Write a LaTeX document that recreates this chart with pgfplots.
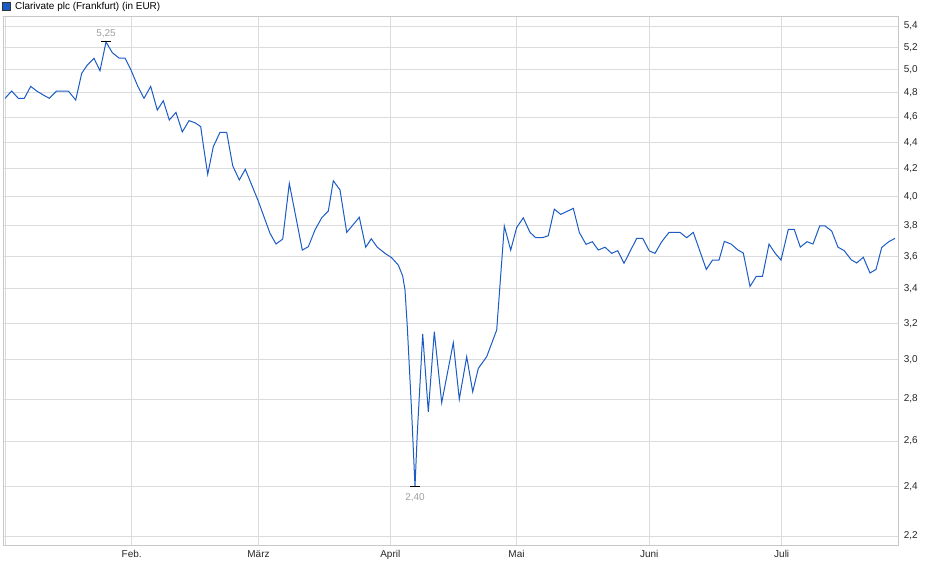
\documentclass[border=0pt]{standalone}
\usepackage{pgfplots}
\pgfplotsset{compat=1.18}
\usepackage{fontspec}
\setmainfont{Liberation Sans}
\definecolor{kurs}{HTML}{1A5BC4}
\definecolor{gitter}{HTML}{DCDCDC}
\definecolor{rahmen}{HTML}{C8C8C8}
\definecolor{marke}{HTML}{A0A0A0}
\begin{document}
\begin{tikzpicture}
\path[use as bounding box] (-3bp,-34bp) rectangle (937bp,545bp);
\begin{axis}[
    at={(0,0)}, anchor=south west,
    scale only axis, width=895.3bp, height=529bp,
    xmin=3, xmax=898.3,
    ymode=log, ymin=2.1654, ymax=5.496,
    axis line style={rahmen, line width=0.8bp},
    grid=major, grid style={gitter, line width=0.8bp},
    major tick length=0,
    xtick={5.3,131.7,258.5,390.3,516.5,649.3,781.7},
    xticklabels={,Feb.,März,April,Mai,Juni,Juli},
    ytick={2.2,2.4,2.6,2.8,3.0,3.2,3.4,3.6,3.8,4.0,4.2,4.4,4.6,4.8,5.0,5.2,5.4},
    yticklabels={{2,2},{2,4},{2,6},{2,8},{3,0},{3,2},{3,4},{3,6},{3,8},{4,0},{4,2},{4,4},{4,6},{4,8},{5,0},{5,2},{5,4}},
    yticklabel pos=right,
    tick label style={font=\fontsize{10}{12}\selectfont, text=black!85},
    yticklabel style={anchor=west, xshift=2bp},
    xticklabel style={anchor=north, yshift=-2bp},
]
\addplot[kurs, line width=1bp] coordinates {
(5,4.754) (11.7,4.816) (18.3,4.754) (24.3,4.754) (30.7,4.855) (36.7,4.816)
(42.7,4.785) (49.3,4.754) (56.7,4.816) (68.3,4.816) (75.7,4.740) (81.7,4.968)
(87.3,5.041) (94,5.101) (100,4.991) (106,5.25) (112.3,5.152) (119,5.104)
(125,5.104) (131,4.997) (137.7,4.858) (144,4.754) (150.7,4.855) (157.3,4.657)
(163.3,4.734) (169.3,4.576) (176,4.638) (182.3,4.481) (189,4.571) (195,4.554)
(200.7,4.523) (203.3,4.379) (207.7,4.159) (213.3,4.366) (220,4.478) (226.7,4.478)
(232.7,4.222) (239.3,4.118) (245.3,4.196) (258.3,3.968) (270,3.749) (276,3.679)
(282.7,3.711) (289.3,4.093) (302.3,3.640) (308.3,3.661) (315,3.771) (321.7,3.853)
(328.3,3.899) (333.3,4.112) (340,4.046) (346.7,3.755) (359.3,3.856) (365.7,3.658)
(371.3,3.713) (377.3,3.658) (385,3.619) (391.7,3.591) (398.3,3.545) (402.7,3.477)
(405,3.393) (407.3,3.180) (411.7,2.730) (415,2.40) (417.3,2.637) (422.7,3.140)
(428.3,2.738) (434.3,3.152) (441.7,2.782) (453.3,3.092) (459.3,2.799) (466.7,3.017)
(472.7,2.836) (478.3,2.955) (486.7,3.017) (496.7,3.162) (504.3,3.797) (510.7,3.640)
(516.7,3.788) (523.3,3.853) (530,3.755) (535.7,3.720) (542.3,3.720) (548.3,3.733)
(554.3,3.912) (560.7,3.876) (573.3,3.917) (579.3,3.755) (586,3.677) (592.3,3.694)
(598.3,3.640) (605,3.658) (611.7,3.619) (617.7,3.636) (624,3.556) (636.7,3.716)
(642.7,3.716) (649.3,3.634) (655,3.619) (661.7,3.694) (669,3.755) (680,3.755)
(686.7,3.720) (693.3,3.755) (706.3,3.518) (712.5,3.576) (719,3.576) (724.3,3.696)
(731,3.679) (738,3.640) (743.3,3.621) (750,3.414) (756.3,3.475) (762.5,3.475)
(769,3.678) (775,3.621) (781,3.576) (788.3,3.775) (794.2,3.775) (800.3,3.659)
(807,3.694) (813,3.679) (819.7,3.798) (825,3.798) (831.7,3.764) (838,3.658)
(844.2,3.636) (851.2,3.578) (856.7,3.558) (863.3,3.594) (870,3.496) (876,3.518)
(881.7,3.656) (888.7,3.694) (895,3.716)
};
% Hoch und Tief
\addplot[only marks, mark=-, mark size=5bp, mark options={black, line width=1bp},
    point meta=explicit symbolic, nodes near coords,
    nodes near coords style={text=marke, font=\fontsize{10}{12}\selectfont, anchor=south, yshift=0bp}]
    coordinates {(106,5.25) [5,25]};
\addplot[only marks, mark=-, mark size=5bp, mark options={black, line width=1bp},
    point meta=explicit symbolic, nodes near coords,
    nodes near coords style={text=marke, font=\fontsize{10}{12}\selectfont, anchor=north, yshift=-3bp}]
    coordinates {(415,2.40) [2,40]};
\end{axis}
\fill[kurs] (-0.3bp,535bp) rectangle (7bp,542.3bp);
\draw[black!80, line width=0.8bp] (-0.3bp,535bp) rectangle (7bp,542.3bp);
\node[anchor=base west, inner sep=0pt, font=\fontsize{10}{12}\selectfont]
    at (12bp,535bp) {Clarivate plc (Frankfurt) (in EUR)};
\end{tikzpicture}
\end{document}
